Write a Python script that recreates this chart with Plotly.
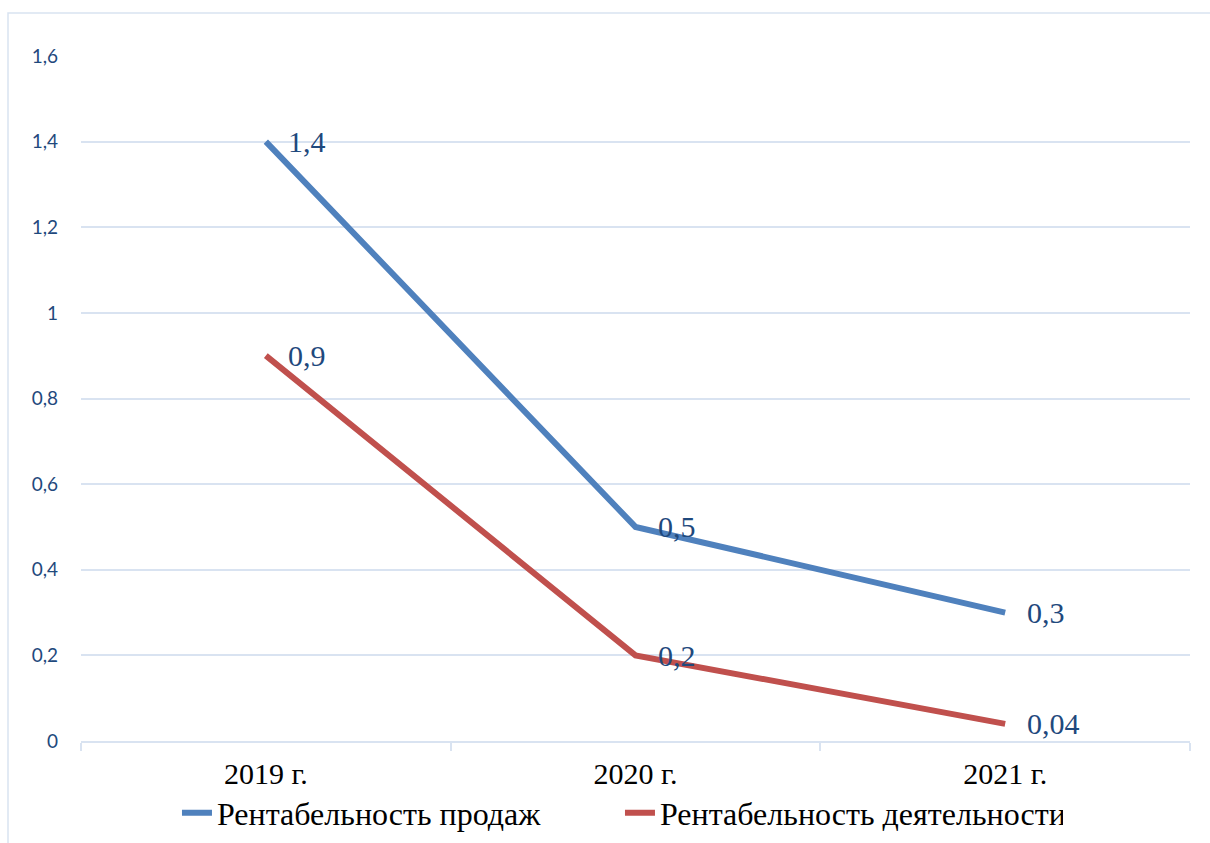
import plotly.graph_objects as go

# Profitability indicators by year
years = ["2019 г.", "2020 г.", "2021 г."]
sales_margin = [1.4, 0.5, 0.3]
activity_margin = [0.9, 0.2, 0.04]
series_names = ["Рентабельность продаж", "Рентабельность деятельности"]
y_ticks = [0, 0.2, 0.4, 0.6, 0.8, 1.0, 1.2, 1.4, 1.6]
y_tick_text = ["0", "0,2", "0,4", "0,6", "0,8", "1", "1,2", "1,4", "1,6"]

BLUE = "#4F81BD"
RED = "#C0504D"
LABEL_BLUE = "#1F497D"
GRID = "#D9E3F1"
SERIF = "Liberation Serif"


def fmt(v):
    return f"{v:g}".replace(".", ",")


fig = go.Figure()
for name, vals, color in [(series_names[0], sales_margin, BLUE),
                          (series_names[1], activity_margin, RED)]:
    fig.add_trace(go.Scatter(
        x=years, y=vals, name=name, mode="lines",
        line=dict(color=color, width=6),
        hoverinfo="skip",
    ))
    for xv, yv in zip(years, vals):
        fig.add_annotation(
            x=xv, y=yv, text=fmt(yv), showarrow=False,
            xanchor="left", yanchor="middle", xshift=20, yshift=0,
            font=dict(family=SERIF, size=30, color=LABEL_BLUE),
        )

# Light frame around the chart area
fig.add_shape(
    type="rect", xref="paper", yref="paper",
    x0=(8 - 81) / 1109, x1=(1230 - 81) / 1109,
    y0=(741 - 870) / 685, y1=(741 - 13) / 685,
    line=dict(color=GRID, width=1.5), layer="below",
)

fig.update_layout(
    width=1210, height=843,
    margin=dict(l=81, r=20, t=56, b=102, autoexpand=False),
    paper_bgcolor="white", plot_bgcolor="white",
    showlegend=True,
    legend=dict(
        orientation="h", x=0.486, xanchor="center",
        y=(741 - 813) / 685, yanchor="middle",
        font=dict(family=SERIF, size=32, color="black"),
        entrywidth=398, entrywidthmode="pixels",
        bgcolor="rgba(0,0,0,0)",
        tracegroupgap=0,
    ),
    xaxis=dict(
        type="category", categoryorder="array", categoryarray=years,
        range=[-0.5, 2.5],
        showgrid=False, showline=True, linecolor=GRID, linewidth=1.5,
        ticks="outside", tickson="boundaries", ticklen=8, tickcolor=GRID,
        tickwidth=1.5,
        tickfont=dict(family=SERIF, size=30, color="black"),
        ticklabelstandoff=5,
        fixedrange=True,
    ),
    yaxis=dict(
        range=[0, 1.6], tickvals=y_ticks, ticktext=y_tick_text,
        showgrid=True, gridcolor=GRID, gridwidth=1.5,
        zeroline=False, showline=False,
        tickfont=dict(family="Lato", size=19, color=LABEL_BLUE),
        ticklabelstandoff=22,
        fixedrange=True,
    ),
)

fig.write_html("out.html")
